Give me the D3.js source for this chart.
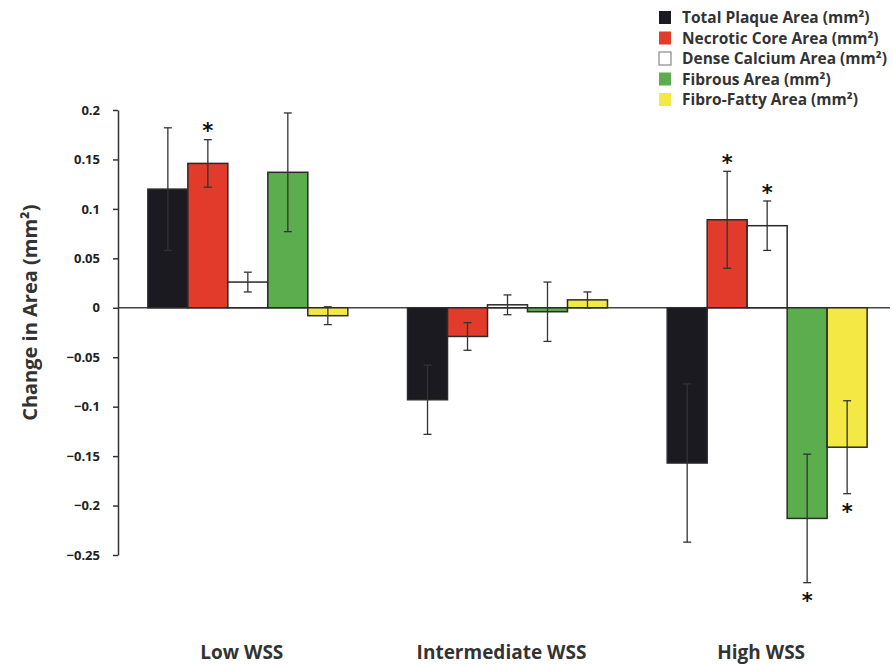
<!DOCTYPE html>
<html><head><meta charset="utf-8">
<script src="https://cdn.jsdelivr.net/npm/d3@7"></script>
<style>
body{margin:0;background:#fff;}
text{font-family:"Open Sans",Lato,sans-serif;font-weight:bold;fill:#222;}
</style></head>
<body><svg id="c" width="893" height="665"></svg>
<script>
const groups = ["Low WSS", "Intermediate WSS", "High WSS"];
const seriesNames = ["Total Plaque Area (mm²)", "Necrotic Core Area (mm²)", "Dense Calcium Area (mm²)", "Fibrous Area (mm²)", "Fibro-Fatty Area (mm²)"];
const seriesColors = ["#1b1a20", "#e23b2b", "#ffffff", "#5cad4e", "#f4e845"];
const totalPlaque = [0.120, -0.093, -0.157];
const totalPlaqueErr = [0.062, 0.035, 0.080];
const necroticCore = [0.146, -0.029, 0.089];
const necroticCoreErr = [0.024, 0.014, 0.049];
const denseCalcium = [0.026, 0.003, 0.083];
const denseCalciumErr = [0.010, 0.010, 0.025];
const fibrous = [0.137, -0.004, -0.213];
const fibrousErr = [0.060, 0.030, 0.065];
const fibroFatty = [-0.008, 0.008, -0.141];
const fibroFattyErr = [0.009, 0.008, 0.047];
const significant = [
  [false, false, false],
  [true, false, true],
  [false, false, true],
  [false, false, true],
  [false, false, true]
];
const yTicks = [0.2, 0.15, 0.1, 0.05, 0, -0.05, -0.1, -0.15, -0.2, -0.25];
const yLabel = "Change in Area (mm²)";

const values = [totalPlaque, necroticCore, denseCalcium, fibrous, fibroFatty];
const errors = [totalPlaqueErr, necroticCoreErr, denseCalciumErr, fibrousErr, fibroFattyErr];

const svg = d3.select("#c");
const y = d3.scaleLinear().domain([-0.25, 0.2]).range([555, 110]);
const x0 = d3.scaleBand().domain(groups).range([118, 897]).paddingInner(0.23).paddingOuter(0.115);
const x1 = d3.scaleBand().domain(seriesNames).range([0, x0.bandwidth()]);

const data = [];
groups.forEach((g, gi) => seriesNames.forEach((s, si) => {
  data.push({g, s, si, v: values[si][gi], e: errors[si][gi], sig: significant[si][gi]});
}));

// zero line
svg.append("line").attr("x1", 118).attr("x2", 890).attr("y1", y(0)).attr("y2", y(0))
  .attr("stroke", "#444").attr("stroke-width", 1.5);

// bars
svg.append("g").selectAll("rect").data(data).join("rect")
  .attr("x", d => x0(d.g) + x1(d.s))
  .attr("width", x1.bandwidth())
  .attr("y", d => y(Math.max(0, d.v)))
  .attr("height", d => Math.abs(y(d.v) - y(0)))
  .attr("fill", d => seriesColors[d.si])
  .attr("stroke", "#2a2a2a").attr("stroke-width", 1.5);

// error bars
const eg = svg.append("g").attr("stroke", "#333").attr("stroke-width", 1.3);
data.forEach(d => {
  const cx = x0(d.g) + x1(d.s) + x1.bandwidth() / 2;
  eg.append("line").attr("x1", cx).attr("x2", cx).attr("y1", y(d.v + d.e)).attr("y2", y(d.v - d.e));
  [d.v + d.e, d.v - d.e].forEach(t => {
    eg.append("line").attr("x1", cx - 4).attr("x2", cx + 4).attr("y1", y(t)).attr("y2", y(t));
  });
});

// asterisks
svg.append("g").selectAll("text").data(data.filter(d => d.sig)).join("text")
  .attr("x", d => x0(d.g) + x1(d.s) + x1.bandwidth() / 2)
  .attr("y", d => d.v >= 0 ? y(d.v + d.e) - 13 : y(d.v - d.e) + 14)
  .attr("dy", "0.55em")
  .attr("text-anchor", "middle")
  .style("font-family", "'DejaVu Sans',sans-serif")
  .style("font-size", "21px").style("fill", "#111")
  .text("*");

// y axis
const yAxis = d3.axisLeft(y).tickValues(yTicks).tickSize(5).tickSizeOuter(0).tickFormat(d => d3.format("")(d));
const ag = svg.append("g").attr("transform", "translate(118,0)").call(yAxis);
ag.select(".domain").attr("stroke", "#333").attr("stroke-width", 1.5);
ag.selectAll(".tick line").attr("stroke", "#333").attr("stroke-width", 1.5);
ag.selectAll(".tick text").attr("x", -18).style("font-size", "13px").style("font-family", "'Open Sans',sans-serif").style("font-weight", "bold").attr("fill", "#333");

// y label
svg.append("text").attr("transform", `translate(37,${y(-0.005)}) rotate(-90)`)
  .attr("text-anchor", "middle").style("font-size", "20px").style("fill", "#333")
  .text(yLabel);

// x labels
svg.append("g").selectAll("text").data(groups).join("text")
  .attr("x", d => x0(d) + x0.bandwidth() / 2 - 6)
  .attr("y", 659)
  .attr("text-anchor", "middle").style("font-size", "19px").style("fill", "#333")
  .text(d => d);

// legend
const lg = svg.append("g").attr("transform", "translate(659,8)");
seriesNames.forEach((s, i) => {
  const row = lg.append("g").attr("transform", `translate(0,${i * 20.5})`);
  row.append("rect").attr("x", 0).attr("y", 3).attr("width", 12).attr("height", 13)
    .attr("fill", seriesColors[i]).attr("stroke", i === 2 ? "#888" : "none").attr("stroke-width", 1.2);
  row.append("text").attr("x", 23).attr("y", 15).style("font-size", "15.5px").style("fill", "#333").text(s);
});
</script></body></html>
